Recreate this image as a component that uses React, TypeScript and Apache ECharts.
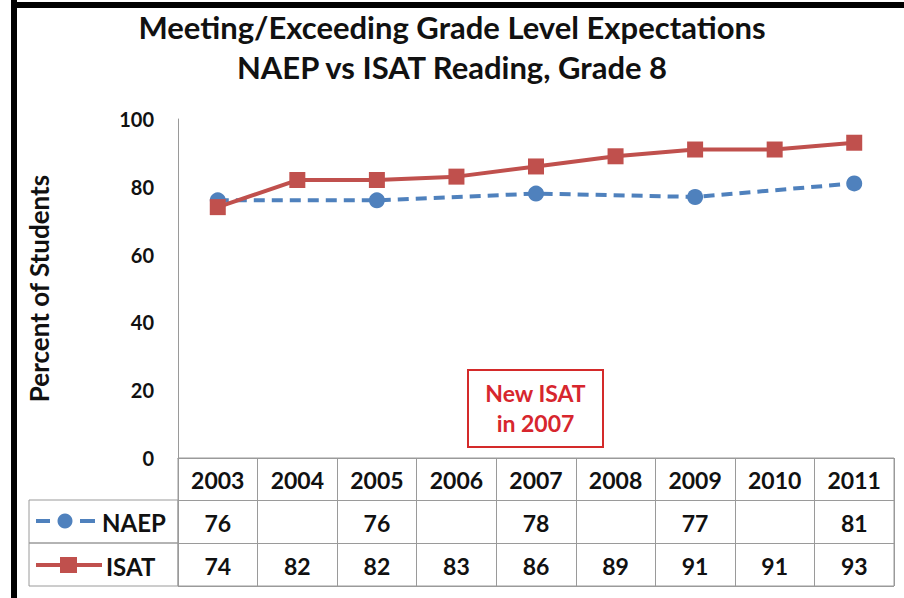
import React, { useEffect, useRef } from "react";
import * as echarts from "echarts";

const years = ["2003", "2004", "2005", "2006", "2007", "2008", "2009", "2010", "2011"];
const naep: (number | null)[] = [76, null, 76, null, 78, null, 77, null, 81];
const isat: number[] = [74, 82, 82, 83, 86, 89, 91, 91, 93];
const rows = ["year", "NAEP", "ISAT"];
const yTicks = { min: 0, max: 100, interval: 20 };
const titleLines = ["Meeting/Exceeding Grade Level Expectations", "NAEP vs ISAT Reading, Grade 8"];
const note = ["New ISAT", "in 2007"];

const BLUE = "#4F81BD";
const RED = "#C0504D";
const GRAY = "#9a9a9a";
const FONT = "Lato";

export default function App() {
  const ref = useRef<HTMLDivElement>(null);
  useEffect(() => {
    if (!ref.current) return;
    const chart = echarts.init(ref.current, null, { renderer: "svg" });
    const tableData: any[] = [];
    years.forEach((y, i) => tableData.push([i, 0, y]));
    naep.forEach((v, i) => { if (v != null) tableData.push([i, 1, String(v)]); });
    isat.forEach((v, i) => tableData.push([i, 2, String(v)]));

    chart.setOption({
      animation: false,
      backgroundColor: "#ffffff",
      textStyle: { fontFamily: FONT },
      title: {
        text: titleLines.join("\n"),
        left: "center",
        top: 2,
        textStyle: { fontFamily: FONT, fontSize: 31, fontWeight: "bold", color: "#111", lineHeight: 40 },
      },
      grid: [
        { left: 178, right: 10, top: 119, bottom: 140, containLabel: false },
        { left: 178, right: 10, top: 458, bottom: 12, show: true, borderColor: GRAY, borderWidth: 1, containLabel: false },
      ],
      xAxis: [
        {
          gridIndex: 0, type: "category", data: years, boundaryGap: true,
          axisLine: { show: true, lineStyle: { color: GRAY } },
          axisTick: { show: false }, axisLabel: { show: false }, splitLine: { show: false },
        },
        {
          gridIndex: 1, type: "category", data: years, boundaryGap: true,
          axisLine: { show: false }, axisTick: { show: false }, axisLabel: { show: false },
          splitLine: { show: true, lineStyle: { color: GRAY, width: 1 } },
        },
      ],
      yAxis: [
        {
          gridIndex: 0, type: "value", min: yTicks.min, max: yTicks.max, interval: yTicks.interval,
          name: "Percent of Students", nameLocation: "middle", nameRotate: 90, nameGap: 126,
          nameTextStyle: { fontFamily: FONT, fontSize: 26, fontWeight: "bold", color: "#111" },
          axisLine: { show: true, lineStyle: { color: GRAY } },
          axisTick: { show: false }, splitLine: { show: false },
          axisLabel: { fontFamily: FONT, fontSize: 20, fontWeight: "bold", color: "#111", margin: 24 },
        },
        {
          gridIndex: 1, type: "category", data: rows, inverse: true, boundaryGap: true,
          axisLine: { show: false }, axisTick: { show: false }, axisLabel: { show: false },
          splitLine: { show: true, lineStyle: { color: GRAY, width: 1 } },
        },
      ],
      series: [
        {
          name: "NAEP", type: "line", xAxisIndex: 0, yAxisIndex: 0, data: naep, connectNulls: true,
          symbol: "circle", symbolSize: 16,
          lineStyle: { color: BLUE, width: 4, type: [11, 7] },
          itemStyle: { color: BLUE },
        },
        {
          name: "ISAT", type: "line", xAxisIndex: 0, yAxisIndex: 0, data: isat,
          symbol: "rect", symbolSize: 16,
          lineStyle: { color: RED, width: 4 },
          itemStyle: { color: RED },
        },
        {
          name: "table", type: "custom", xAxisIndex: 1, yAxisIndex: 1, data: tableData,
          encode: { x: 0, y: 1 },
          silent: true,
          renderItem: (params: any, api: any) => {
            const d = tableData[params.dataIndex];
            const p = api.coord([d[0], d[1]]);
            return {
              type: "text",
              x: p[0],
              y: p[1] + 1,
              style: {
                text: d[2], fontFamily: FONT, fontSize: 23, fontWeight: "bold", fill: "#111",
                align: "center", verticalAlign: "middle",
              },
            };
          },
        },
      ],
      graphic: [
        { type: "rect", shape: { x: 11, y: 0, width: 6, height: 598 }, style: { fill: "#000" } },
        { type: "rect", shape: { x: 11, y: 2, width: 893, height: 6 }, style: { fill: "#000" } },
        { type: "rect", shape: { x: 29, y: 500, width: 149, height: 43 }, style: { fill: "none", stroke: GRAY, lineWidth: 1 } },
        { type: "rect", shape: { x: 29, y: 543, width: 149, height: 43 }, style: { fill: "none", stroke: GRAY, lineWidth: 1 } },
        { type: "line", shape: { x1: 36, y1: 521, x2: 50, y2: 521 }, style: { stroke: BLUE, lineWidth: 4 } },
        { type: "line", shape: { x1: 80, y1: 521, x2: 95, y2: 521 }, style: { stroke: BLUE, lineWidth: 4 } },
        { type: "circle", shape: { cx: 65, cy: 521, r: 7.5 }, style: { fill: BLUE } },
        { type: "text", x: 102, y: 522, style: { text: "NAEP", fontFamily: FONT, fontSize: 24, fontWeight: "bold", fill: "#111", verticalAlign: "middle" } },
        { type: "line", shape: { x1: 36, y1: 565, x2: 102, y2: 565 }, style: { stroke: RED, lineWidth: 4 } },
        { type: "rect", shape: { x: 60, y: 557, width: 17, height: 16 }, style: { fill: RED } },
        { type: "text", x: 106, y: 566, style: { text: "ISAT", fontFamily: FONT, fontSize: 24, fontWeight: "bold", fill: "#111", verticalAlign: "middle" } },
        { type: "rect", shape: { x: 468, y: 370, width: 135, height: 77 }, style: { fill: "#fff", stroke: "#D42A2A", lineWidth: 2 } },
        { type: "text", x: 535.5, y: 408, style: { text: note.join("\n"), fontFamily: FONT, fontSize: 23, fontWeight: "bold", fill: "#D7262E", align: "center", verticalAlign: "middle", lineHeight: 30 } },
      ],
    });
    return () => chart.dispose();
  }, []);
  return <div ref={ref} style={{ width: 904, height: 598, position: "absolute", left: 0, top: 0 }} />;
}
